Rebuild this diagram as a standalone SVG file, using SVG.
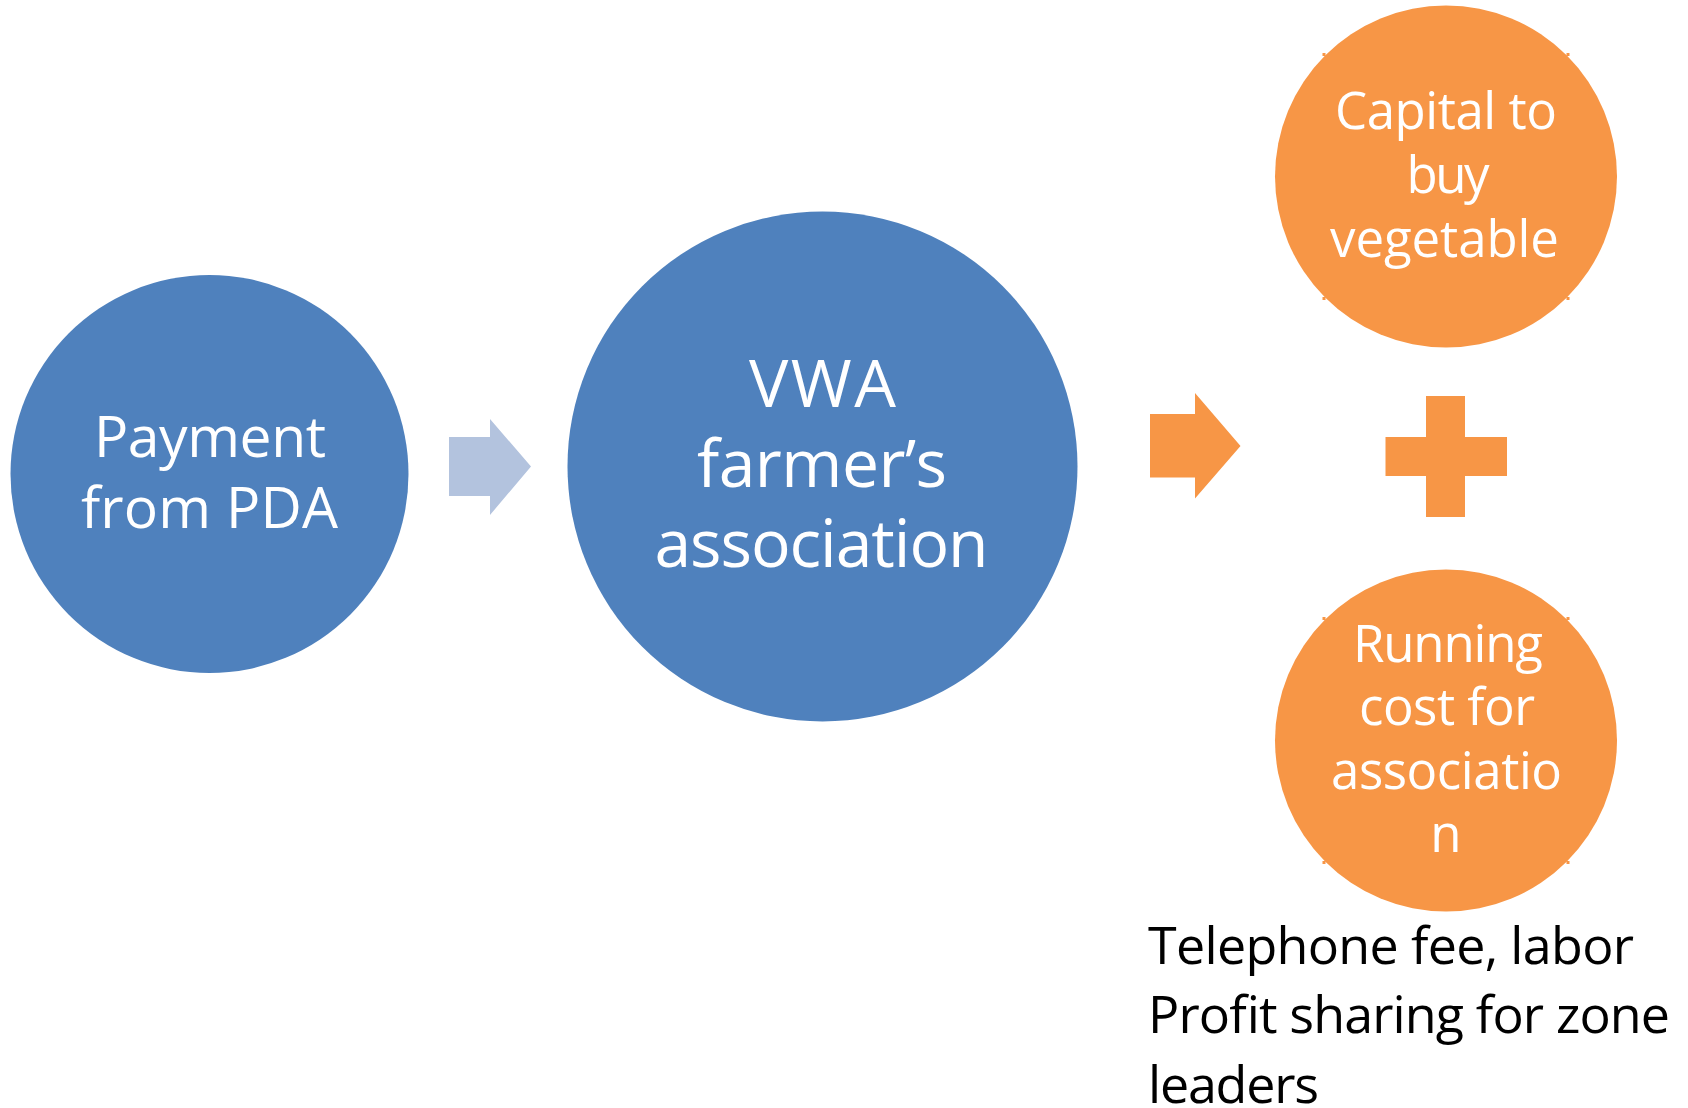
<svg xmlns="http://www.w3.org/2000/svg" width="1688" height="1108" viewBox="0 0 1688 1108">
  <style>
    .blue { fill: #4F81BD; }
    .orange { fill: #F79646; }
    .light { fill: #B3C3DE; }
    .wt { fill: #FFFFFF; font-family: "Open Sans", "Liberation Sans", sans-serif; text-anchor: middle; }
    .bt { fill: #000000; font-family: "Open Sans", "Liberation Sans", sans-serif; }
  </style>
  <rect width="1688" height="1108" fill="#FFFFFF"/>

  <g id="connectors">
    <path id="arrow1" class="light" d="M449,437 H490 V419 L531,466.5 L490,515 V496 H449 Z"/>
    <path id="arrow2" class="orange" d="M1150,414 H1195 V393 L1240.5,446 L1195,498.5 V477.5 H1150 Z"/>
    <path id="plus" class="orange" d="M1426,396 H1465 V437 H1507 V476 H1465 V517 H1426 V476 H1385.5 V437 H1426 Z"/>
  </g>

  <g id="node-payment">
    <circle class="blue" cx="209.5" cy="474" r="199"/>
    <text class="wt" font-size="57" x="210" y="457" textLength="232">Payment</text>
    <text class="wt" font-size="57" x="209.5" y="527.5" textLength="257">from PDA</text>
  </g>

  <g id="node-vwa">
    <circle class="blue" cx="822.5" cy="466.5" r="255"/>
    <text class="wt" font-size="66" x="822.5" y="407" textLength="147">VWA</text>
    <text class="wt" font-size="66" x="822" y="487" textLength="250">farmer’s</text>
    <text class="wt" font-size="66" x="821.5" y="567" textLength="334">association</text>
  </g>

  <g id="node-capital">
    <circle class="orange" cx="1446" cy="176.5" r="171"/>
    <rect class="orange" x="1322.5" y="53" width="3" height="3"/>
    <rect class="orange" x="1566.5" y="53" width="3" height="3"/>
    <rect class="orange" x="1322.5" y="297" width="3" height="3"/>
    <rect class="orange" x="1566.5" y="297" width="3" height="3"/>
    <text class="wt" font-size="51" x="1446" y="129" textLength="222">Capital to</text>
    <text class="wt" font-size="51" x="1448" y="193" textLength="83">buy</text>
    <text class="wt" font-size="51" x="1444.5" y="257" textLength="229">vegetable</text>
  </g>

  <g id="node-running">
    <circle class="orange" cx="1446" cy="740.5" r="171"/>
    <rect class="orange" x="1322.5" y="617" width="3" height="3"/>
    <rect class="orange" x="1566.5" y="617" width="3" height="3"/>
    <rect class="orange" x="1322.5" y="861" width="3" height="3"/>
    <rect class="orange" x="1566.5" y="861" width="3" height="3"/>
    <text class="wt" font-size="51" x="1448" y="662" textLength="190">Running</text>
    <text class="wt" font-size="51" x="1447" y="725" textLength="176">cost for</text>
    <text class="wt" font-size="51" x="1446.5" y="789" textLength="231">associatio</text>
    <text class="wt" font-size="51" x="1446" y="852" textLength="24">n</text>
  </g>

  <g id="note">
    <text class="bt" font-size="52" x="1148" y="964" textLength="486">Telephone fee, labor</text>
    <text class="bt" font-size="52" x="1148" y="1033" textLength="522">Profit sharing for zone</text>
    <text class="bt" font-size="52" x="1148" y="1103" textLength="171">leaders</text>
  </g>
</svg>
